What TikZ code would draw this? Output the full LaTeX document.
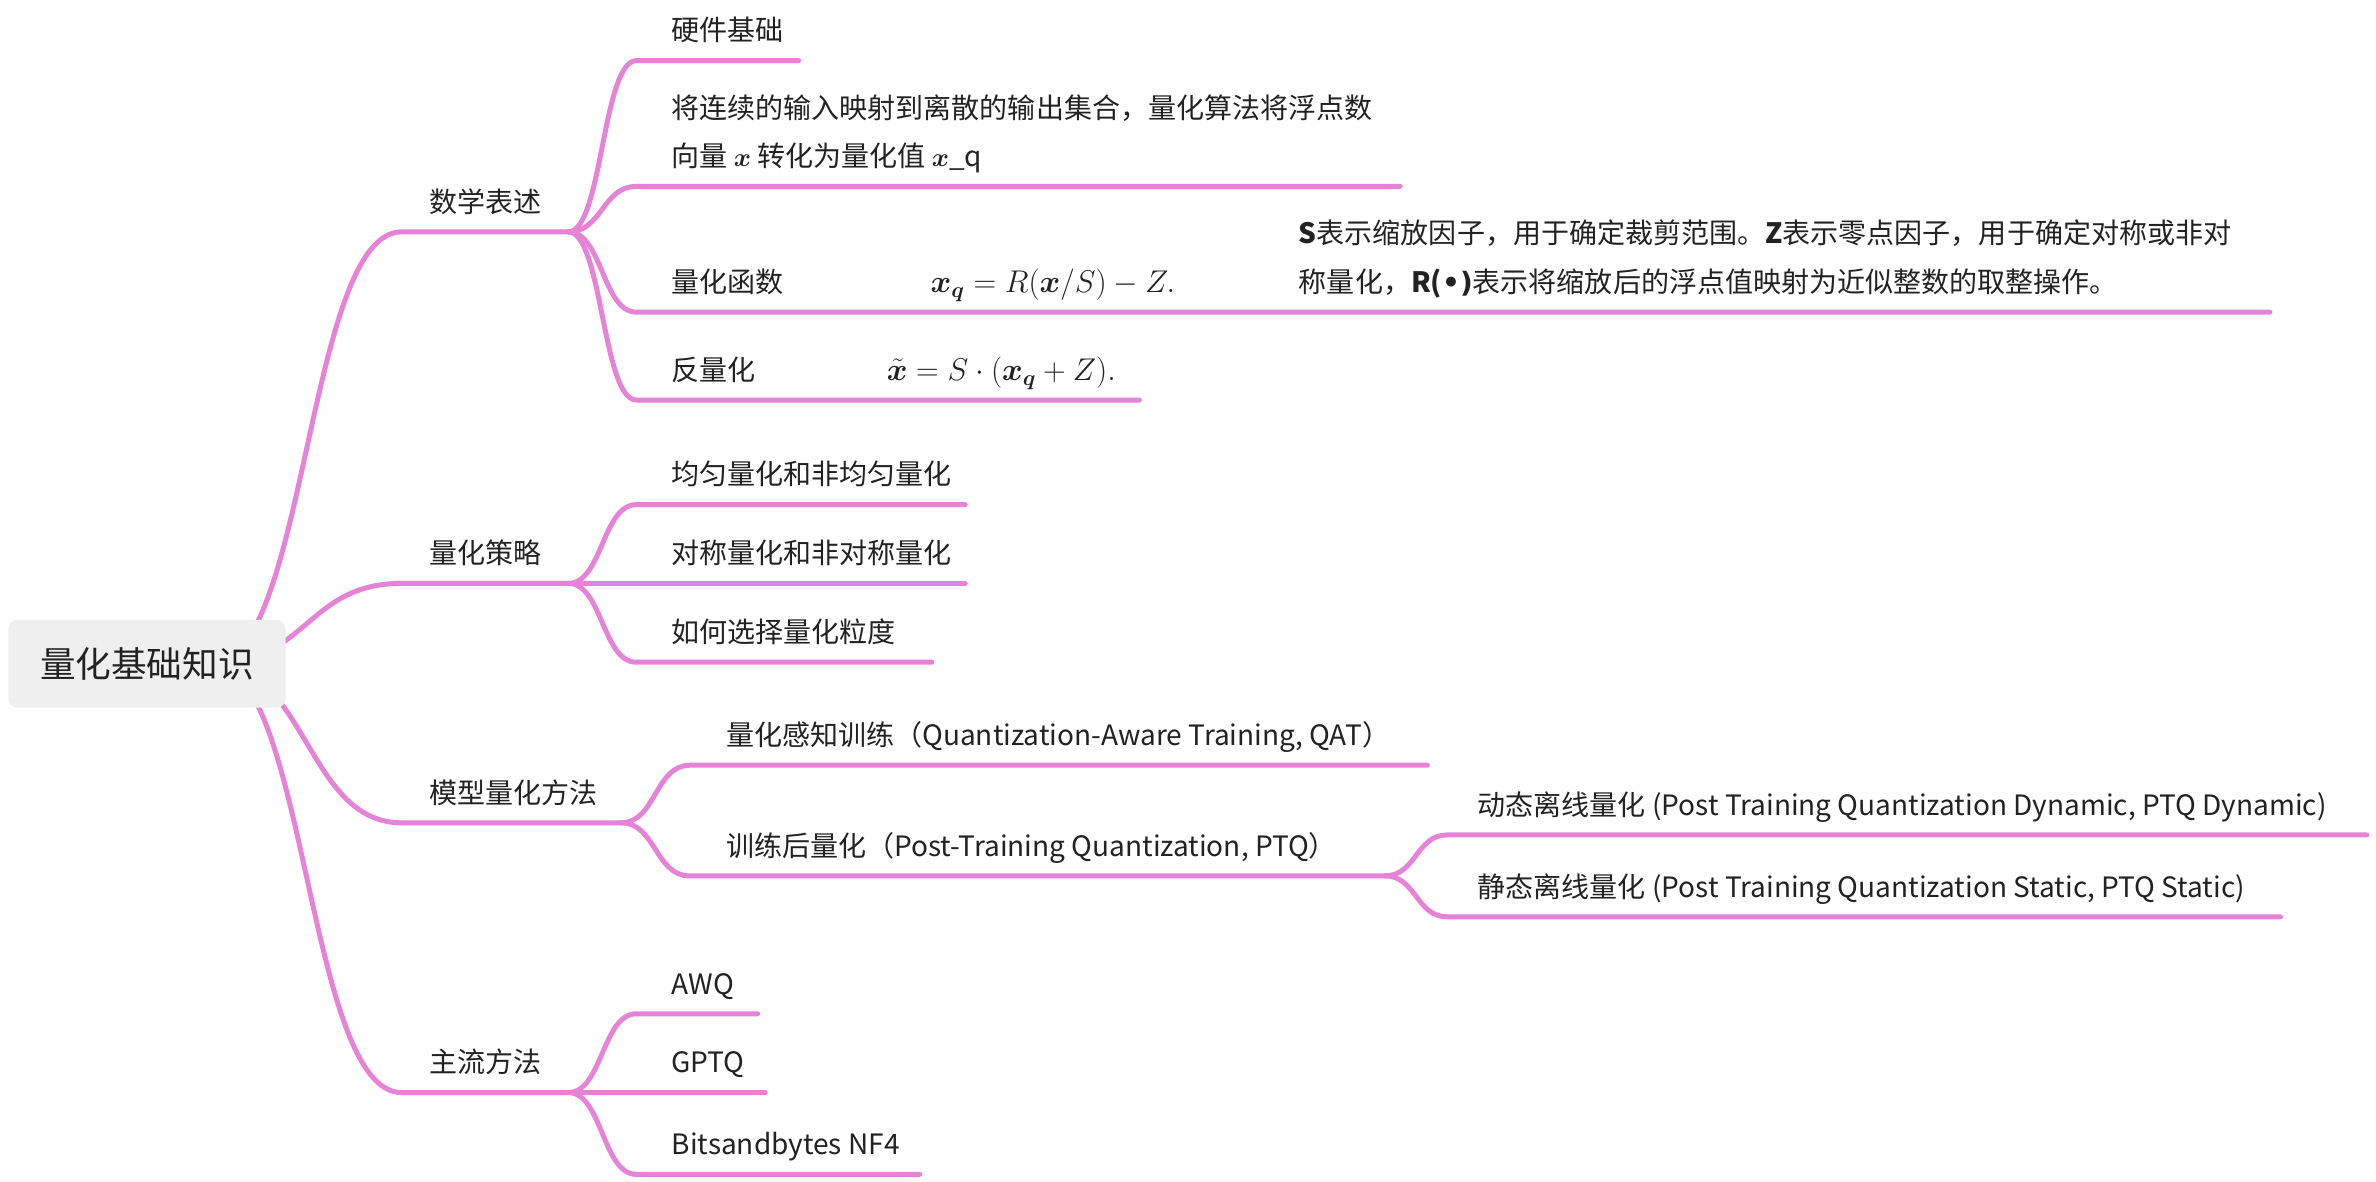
\documentclass[tikz,border=0pt]{standalone}
\usepackage{fontspec}
\setmainfont{Noto Sans CJK SC}
\newfontfamily\symfont{DejaVu Sans}
\usepackage{amsmath}
\usepackage{bm}
\usetikzlibrary{calc, backgrounds}

\definecolor{mmpink}{RGB}{229,131,214}
\definecolor{rootgray}{RGB}{238,239,238}
\definecolor{txtgray}{RGB}{34,34,34}

\newcommand{\topicfont}{\fontsize{18.5}{32}\selectfont}
\newcommand{\rootfont}{\fontsize{23.5}{28}\selectfont}
\newcommand{\eqfont}{\fontsize{21.5}{32}\selectfont}

\begin{document}
\begin{tikzpicture}[
    x=1pt, y=-1pt,
    branch/.style={draw=mmpink, line width=3.3pt, line cap=round, line join=round},
    curve/.style={to path={let \p1=(\tikztostart), \p2=(\tikztotarget) in
        .. controls ({(\x1+\x2)/2},\y1) and ({(\x1+\x2)/2},\y2) .. (\tikztotarget)}},
    topic/.style={font=\topicfont, text=txtgray, inner sep=0pt, anchor=base west, align=left},
    formula/.style={topic, font=\eqfont},
    rootbox/.style={rectangle, rounded corners=6pt, fill=rootgray, minimum width=183pt, minimum height=58pt, font=\rootfont, text=txtgray}
]
    \useasboundingbox (0,0) rectangle (1568,780);

    % 中心主题
    \node[rootbox] (root) at (97,438) {量化基础知识};
    \coordinate (hub) at ($(root.center)+(43,0)$);

    % 一级分支
    \coordinate (math-a) at (265,153);   \coordinate (math-b) at (375,153);
    \coordinate (strat-a) at (265,385);  \coordinate (strat-b) at (375,385);
    \coordinate (method-a) at (265,543); \coordinate (method-b) at (410,543);
    \coordinate (main-a) at (265,721);   \coordinate (main-b) at (375,721);

    \node[topic] (math) at ($(math-a)+(18,-13)$) {数学表述};
    \node[topic] (strat) at ($(strat-a)+(18,-13)$) {量化策略};
    \node[topic] (method) at ($(method-a)+(18,-13)$) {模型量化方法};
    \node[topic] (main) at ($(main-a)+(18,-13)$) {主流方法};

    \begin{scope}[on background layer]
        \draw[branch] (hub) to[curve] (math-a) -- (math-b);
        \draw[branch] (hub) to[curve] (strat-a) -- (strat-b);
        \draw[branch] (hub) to[curve] (method-a) -- (method-b);
        \draw[branch] (hub) to[curve] (main-a) -- (main-b);
    \end{scope}

    % 数学表述
    \coordinate (hw-a) at (420,40);     \coordinate (hw-b) at (527,40);
    \coordinate (def-a) at (420,123);   \coordinate (def-b) at (924,123);
    \coordinate (qf-a) at (420,206);    \coordinate (qf-b) at (1498,206);
    \coordinate (dq-a) at (420,264);    \coordinate (dq-b) at (752,264);

    \node[topic] (hw) at ($(hw-a)+(23,-13)$) {硬件基础};
    \node[topic] (def) at ($(def-a)+(23,-13)$) {将连续的输入映射到离散的输出集合，量化算法将浮点数\\向量 $\bm{x}$ 转化为量化值 $\bm{x}$\_q};
    \node[topic] (qf) at ($(qf-a)+(23,-13)$) {量化函数};
    \node[formula] (qf-eq) at (614,193) {$\bm{x_q} = R(\bm{x}/S) - Z.$};
    \node[topic] (qf-note) at (857,193) {{\bfseries S}表示缩放因子，用于确定裁剪范围。{\bfseries Z}表示零点因子，用于确定对称或非对\\称量化，{\bfseries R(\symfont •)}表示将缩放后的浮点值映射为近似整数的取整操作。};
    \node[topic] (dq) at ($(dq-a)+(23,-13)$) {反量化};
    \node[formula] (dq-eq) at (585,251) {$\tilde{\bm{x}} = S\cdot(\bm{x_q} + Z).$};

    \draw[branch] (math-b) to[curve] (hw-a) -- (hw-b);
    \draw[branch] (math-b) to[curve] (def-a) -- (def-b);
    \draw[branch] (math-b) to[curve] (qf-a) -- (qf-b);
    \draw[branch] (math-b) to[curve] (dq-a) -- (dq-b);

    % 量化策略
    \coordinate (uni-a) at (420,333);   \coordinate (uni-b) at (637,333);
    \coordinate (sym-a) at (420,385);   \coordinate (sym-b) at (637,385);
    \coordinate (gran-a) at (420,437);  \coordinate (gran-b) at (615,437);

    \node[topic] (uni) at ($(uni-a)+(23,-13)$) {均匀量化和非均匀量化};
    \node[topic] (sym) at ($(sym-a)+(23,-13)$) {对称量化和非对称量化};
    \node[topic] (gran) at ($(gran-a)+(23,-13)$) {如何选择量化粒度};

    \draw[branch] (strat-b) to[curve] (uni-a) -- (uni-b);
    \draw[branch] (strat-b) -- (sym-b);
    \draw[branch] (strat-b) to[curve] (gran-a) -- (gran-b);

    % 模型量化方法
    \coordinate (qat-a) at (455,505);   \coordinate (qat-b) at (942,505);
    \coordinate (ptq-a) at (455,578);   \coordinate (ptq-b) at (914,578);
    \coordinate (dyn-a) at (955,551);   \coordinate (dyn-b) at (1562,551);
    \coordinate (sta-a) at (955,605);   \coordinate (sta-b) at (1505,605);

    \node[topic] (qat) at ($(qat-a)+(24,-13)$) {量化感知训练（Quantization-Aware Training, QAT）};
    \node[topic] (ptq) at ($(ptq-a)+(24,-13)$) {训练后量化（Post-Training Quantization, PTQ）};
    \node[topic] (dyn) at ($(dyn-a)+(20,-13)$) {动态离线量化 (Post Training Quantization Dynamic, PTQ Dynamic)};
    \node[topic] (sta) at ($(sta-a)+(20,-13)$) {静态离线量化 (Post Training Quantization Static, PTQ Static)};

    \draw[branch] (method-b) to[curve] (qat-a) -- (qat-b);
    \draw[branch] (method-b) to[curve] (ptq-a) -- (ptq-b);
    \draw[branch] (ptq-b) to[curve] (dyn-a) -- (dyn-b);
    \draw[branch] (ptq-b) to[curve] (sta-a) -- (sta-b);

    % 主流方法
    \coordinate (awq-a) at (420,669);   \coordinate (awq-b) at (500,669);
    \coordinate (gptq-a) at (420,721);  \coordinate (gptq-b) at (505,721);
    \coordinate (bnb-a) at (420,775);   \coordinate (bnb-b) at (607,775);

    \node[topic] (awq) at ($(awq-a)+(23,-13)$) {AWQ};
    \node[topic] (gptq) at ($(gptq-a)+(23,-13)$) {GPTQ};
    \node[topic] (bnb) at ($(bnb-a)+(23,-13)$) {Bitsandbytes NF4};

    \draw[branch] (main-b) to[curve] (awq-a) -- (awq-b);
    \draw[branch] (main-b) -- (gptq-b);
    \draw[branch] (main-b) to[curve] (bnb-a) -- (bnb-b);
\end{tikzpicture}
\end{document}
